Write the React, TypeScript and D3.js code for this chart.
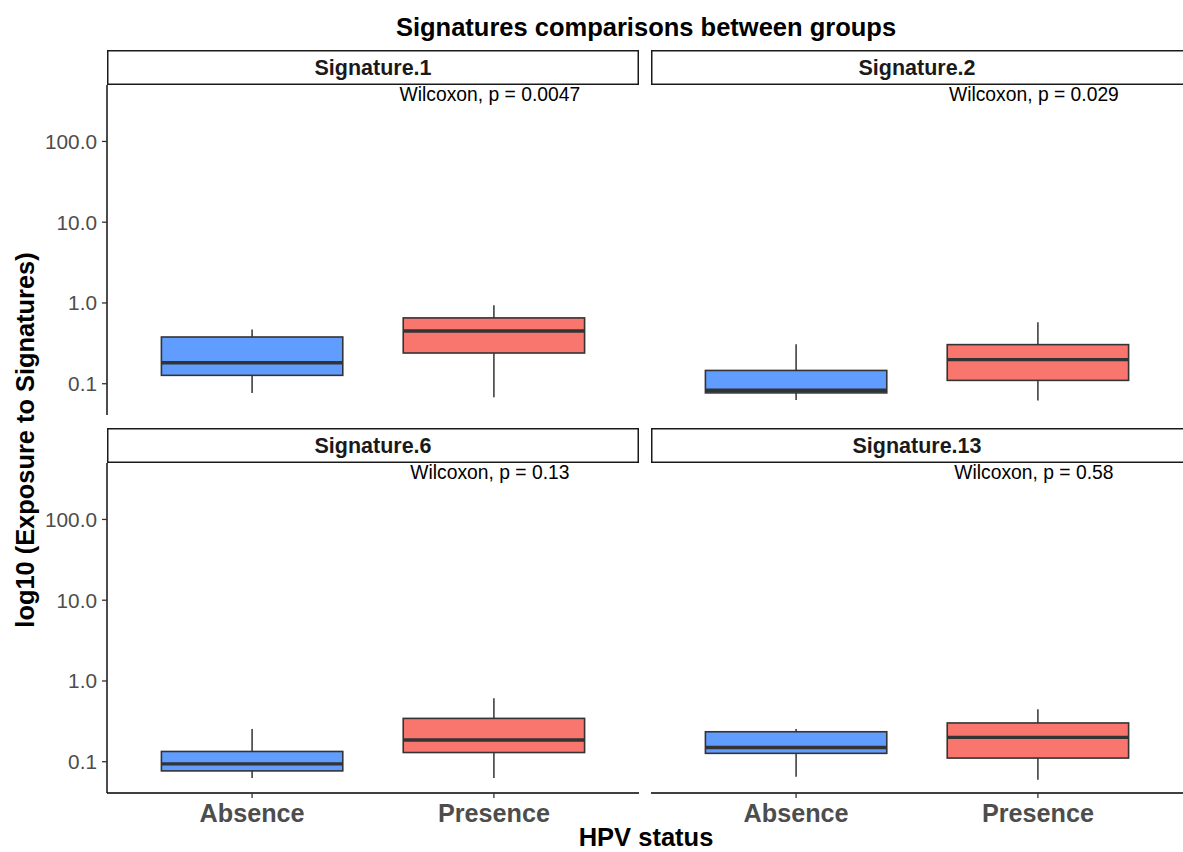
import React from "react";
import * as d3 from "d3";

// Facets, groups and test results
const signatures = ["Signature.1", "Signature.2", "Signature.6", "Signature.13"];
const groups = ["Absence", "Presence"];
const pValueLabels = [
  "Wilcoxon, p = 0.0047",
  "Wilcoxon, p = 0.029",
  "Wilcoxon, p = 0.13",
  "Wilcoxon, p = 0.58",
];

// Five-number summaries per signature: [lower whisker, Q1, median, Q3, upper whisker]
const absenceStats = [
  [0.077, 0.127, 0.182, 0.379, 0.469],
  [0.063, 0.077, 0.083, 0.146, 0.308],
  [0.063, 0.077, 0.094, 0.134, 0.254],
  [0.065, 0.127, 0.15, 0.235, 0.254],
];
const presenceStats = [
  [0.068, 0.24, 0.45, 0.653, 0.939],
  [0.062, 0.11, 0.199, 0.305, 0.577],
  [0.063, 0.13, 0.186, 0.344, 0.609],
  [0.06, 0.111, 0.2, 0.302, 0.445],
];

const yTickValues = [0.1, 1, 10, 100];
const yTickLabels = ["0.1", "1.0", "10.0", "100.0"];

const groupColors = ["#619CFF", "#F8766D"];

const W = 1183;
const H = 852;
const FONT = "'Liberation Sans', Arial, Helvetica, sans-serif";

const colX = [
  [107, 639],
  [651, 1183],
];
const rowY = [
  { stripTop: 50, panelTop: 85, panelBottom: 415 },
  { stripTop: 428, panelTop: 463, panelBottom: 793 },
];
const stripH = 35;

function Txt(props: {
  x: number;
  y: number;
  size: number;
  anchor?: string;
  weight?: string | number;
  fill?: string;
  children: React.ReactNode;
}) {
  const { x, y, size, anchor = "middle", weight = "normal", fill = "#000", children } = props;
  return (
    <text
      x={x}
      y={y}
      fontSize={size}
      fontFamily={FONT}
      fontWeight={weight}
      textAnchor={anchor}
      fill={fill}
    >
      {children}
    </text>
  );
}

function Panel({ index }: { index: number }) {
  const col = index % 2;
  const row = Math.floor(index / 2);
  const [x0, x1] = colX[col];
  const { stripTop, panelTop, panelBottom } = rowY[row];

  const y = d3.scaleLog().domain([0.041, 500]).range([panelBottom, panelTop]);
  const x = d3.scalePoint<string>().domain(groups).range([x0, x1]).padding(0.6);
  const boxW = x.step() * 0.75;

  const stats = [absenceStats[index], presenceStats[index]];

  return (
    <g>
      {/* strip */}
      <rect
        x={x0 + 0.75}
        y={stripTop + 0.75}
        width={col === 1 ? x1 - x0 + 10 : x1 - x0 - 1.5}
        height={stripH - 1.5}
        fill="#fff"
        stroke="#1a1a1a"
        strokeWidth={1.5}
      />
      <Txt x={(x0 + x1) / 2} y={stripTop + 25} size={21.5} weight="bold" fill="#1a1a1a">
        {signatures[index]}
      </Txt>

      {/* boxes */}
      {groups.map((g, gi) => {
        const [lo, q1, med, q3, hi] = stats[gi];
        const cx = x(g)!;
        return (
          <g key={g}>
            <line x1={cx} x2={cx} y1={y(q3)} y2={y(hi)} stroke="#333" strokeWidth={1.5} />
            <line x1={cx} x2={cx} y1={y(q1)} y2={y(lo)} stroke="#333" strokeWidth={1.5} />
            <rect
              x={cx - boxW / 2}
              y={y(q3)}
              width={boxW}
              height={y(q1) - y(q3)}
              fill={groupColors[gi]}
              stroke="#333"
              strokeWidth={1.6}
            />
            <line
              x1={cx - boxW / 2}
              x2={cx + boxW / 2}
              y1={y(med)}
              y2={y(med)}
              stroke="#333"
              strokeWidth={3.4}
            />
          </g>
        );
      })}

      {/* test annotation */}
      <Txt x={x(groups[1])! - 4} y={panelTop + 16} size={19.3}>
        {pValueLabels[index]}
      </Txt>

      {/* y axis on left column */}
      {col === 0 && (
        <g>
          <line x1={x0} x2={x0} y1={panelTop} y2={panelBottom} stroke="#000" strokeWidth={1.4} />
          {yTickValues.map((v, i) => (
            <g key={v}>
              <line x1={x0 - 5} x2={x0} y1={y(v)} y2={y(v)} stroke="#333" strokeWidth={1.3} />
              <Txt x={x0 - 10} y={y(v) + 7.4} size={20.8} anchor="end" fill="#4d4d4d">
                {yTickLabels[i]}
              </Txt>
            </g>
          ))}
        </g>
      )}

      {/* x axis on bottom row */}
      {row === 1 && (
        <g>
          <line x1={x0} x2={x1} y1={panelBottom} y2={panelBottom} stroke="#000" strokeWidth={1.4} />
          {groups.map((g) => (
            <g key={g}>
              <line
                x1={x(g)!}
                x2={x(g)!}
                y1={panelBottom}
                y2={panelBottom + 5}
                stroke="#333"
                strokeWidth={1.3}
              />
              <Txt x={x(g)!} y={panelBottom + 28.5} size={25.2} weight="bold" fill="#4d4d4d">
                {g}
              </Txt>
            </g>
          ))}
        </g>
      )}
    </g>
  );
}

export default function App() {
  return (
    <svg
      width={W}
      height={H}
      style={{ position: "absolute", left: 0, top: 0, background: "#fff" }}
    >
      <rect width={W} height={H} fill="#fff" />
      <Txt x={646} y={36} size={25.5} weight="bold">
        Signatures comparisons between groups
      </Txt>
      {signatures.map((_, i) => (
        <Panel key={i} index={i} />
      ))}
      <Txt x={646} y={846} size={25.5} weight="bold">
        HPV status
      </Txt>
      <text
        transform="translate(34,440) rotate(-90)"
        fontSize={25.4}
        fontFamily={FONT}
        fontWeight="bold"
        textAnchor="middle"
        fill="#000"
      >
        log10 (Exposure to Signatures)
      </text>
    </svg>
  );
}
